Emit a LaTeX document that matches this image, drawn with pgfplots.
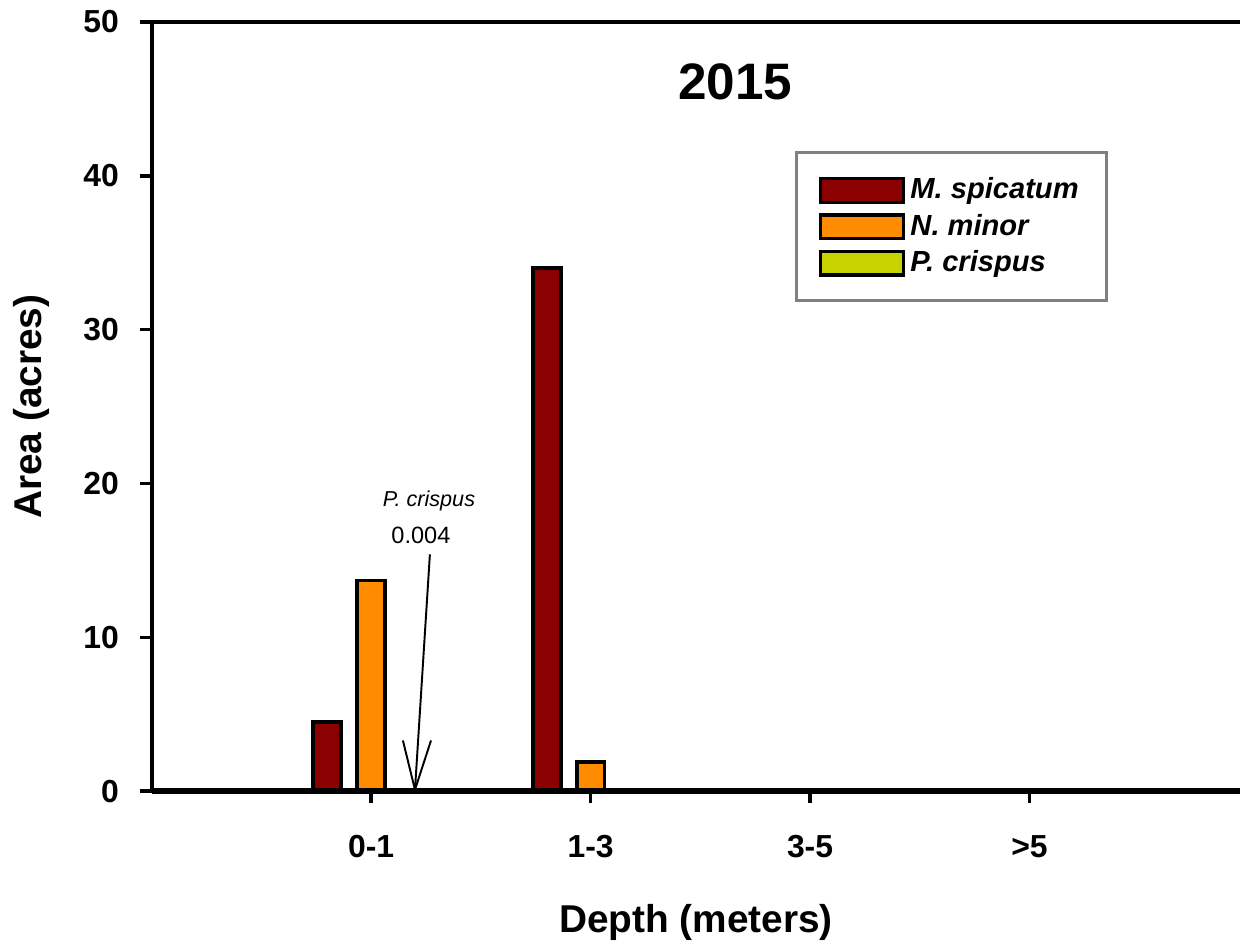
\documentclass[border=0pt]{standalone}
\usepackage{pgfplots}
\pgfplotsset{compat=1.18}
\usepackage{fontspec}
\setmainfont{Liberation Sans}
\definecolor{spic}{RGB}{139,0,0}
\definecolor{nmin}{RGB}{255,140,0}
\definecolor{pcri}{RGB}{200,210,0}
\begin{document}
\begin{tikzpicture}
\begin{axis}[
  scale only axis,
  width=392.8pt, height=277.6pt,
  ybar,
  bar width=0.127,
  xmin=0, xmax=4.96,
  ymin=0, ymax=50,
  ytick={0,10,20,30,40,50},
  xtick={1,2,3,4},
  xticklabels={0-1,1-3,3-5,>5},
  axis x line=bottom, axis y line=left,
  axis line style={-, line width=1.5pt},
  x axis line style={line width=2pt},
  tick align=outside,
  major tick length=4.3pt,
  tick style={line width=1.3pt, black},
  /pgf/number format/assume math mode=true,
  tick label style={font=\fontsize{11.5}{13}\selectfont\bfseries},
  xticklabel style={yshift=-8pt},
  yticklabel style={xshift=-4pt},
  xlabel={Depth (meters)},
  ylabel={Area (acres)},
  label style={font=\fontsize{14}{16}\selectfont\bfseries},
  xlabel style={yshift=-10pt},
  ylabel style={yshift=5.5pt},
  legend style={at={(rel axis cs:0.591,0.832)}, anchor=north west,
    draw={rgb,255:red,128;green,128;blue,128}, line width=1.2pt,
    font=\fontsize{10.5}{12}\selectfont\bfseries\itshape,
    inner xsep=8pt, inner ysep=7pt, row sep=0pt},
  legend cell align=left,
  legend image code/.code={\draw[#1, line width=1.2pt] (0cm,-0.15cm) rectangle (1.05cm,0.15cm);},
  axis on top,
  clip=false,
  after end axis/.code={
    \draw[line width=1.5pt] ([xshift=-4.3pt]rel axis cs:0,1) -- (rel axis cs:1,1);
    \path ([xshift=-54.7pt, yshift=7.9pt]rel axis cs:0,1);
    \path ([yshift=-53.6pt]rel axis cs:0,0);
  },
]
\addplot[bar shift=-0.2, draw=black, line width=1.4pt, fill=spic]
  coordinates {(1,4.5) (2,34) (3,0) (4,0)};
\addplot[bar shift=0, draw=black, line width=1.4pt, fill=nmin]
  coordinates {(1,13.7) (2,1.9) (3,0) (4,0)};
\addplot[bar shift=0.2, draw=black, line width=1.4pt, fill=pcri]
  coordinates {(1,0.004) (2,0) (3,0) (4,0)};
\legend{M. spicatum, N. minor, P. crispus}
\node[font=\fontsize{18.5}{21}\selectfont\bfseries] at (axis cs:2.66,46.1) {2015};
\node[font=\fontsize{7.8}{9}\selectfont\itshape] at (axis cs:1.264,18.9) {P. crispus};
\node[font=\fontsize{8.5}{10}\selectfont] at (axis cs:1.227,16.6) {0.004};
\draw[line width=0.7pt] (axis cs:1.268,15.4) -- (axis cs:1.2,0.1);
\draw[line width=0.7pt] (axis cs:1.145,3.3) -- (axis cs:1.2,0.1) -- (axis cs:1.273,3.3);
\end{axis}
\end{tikzpicture}
\end{document}
